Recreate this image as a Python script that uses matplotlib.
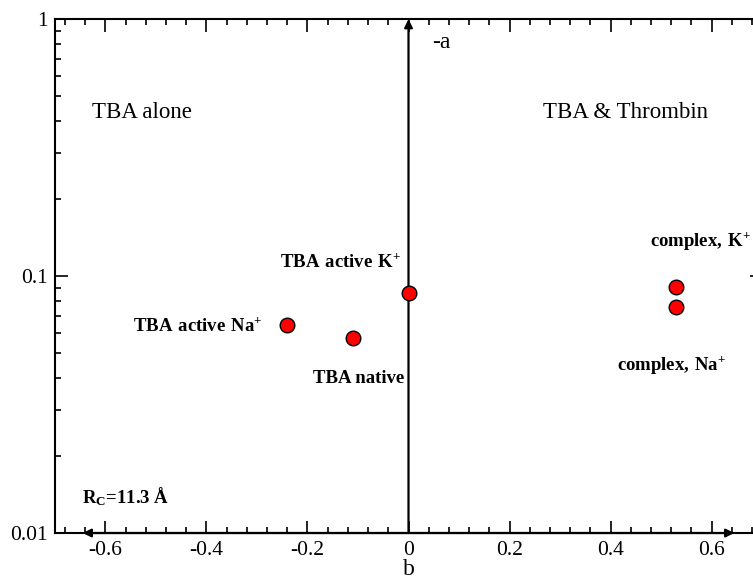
import matplotlib.pyplot as plt
from matplotlib.ticker import MultipleLocator, LogLocator, FixedFormatter, FixedLocator

plt.rcParams['font.family'] = ['Liberation Serif', 'DejaVu Serif']
plt.rcParams['mathtext.fontset'] = 'custom'
plt.rcParams['mathtext.rm'] = 'Liberation Serif'
plt.rcParams['mathtext.bf'] = 'Liberation Serif:bold'

# points
names = [r"$\mathbf{TBA\ active\ Na^{+}}$", "TBA native", r"$\mathbf{TBA\ active\ K^{+}}$",
         r"$\mathbf{complex{,}\ K^{+}}$", r"$\mathbf{complex{,}\ Na^{+}}$"]
b_vals = [-0.24, -0.109, 0.0, 0.53, 0.53]
a_vals = [0.0644, 0.0575, 0.0857, 0.0909, 0.076]
# where each label sits (left edge, baseline)
lab_x = [-0.546, -0.189, -0.254, 0.478, 0.413]
lab_y = [0.0611, 0.0384, 0.108, 0.131, 0.043]

xticks = [-0.6, -0.4, -0.2, 0, 0.2, 0.4, 0.6]
xtick_labels = ["-0.6", "-0.4", "-0.2", "0", "0.2", "0.4", "0.6"]
yticks = [0.01, 0.1, 1]
ytick_labels = ["0.01", "0.1", "1"]

fig = plt.figure(figsize=(7.53, 5.8), dpi=100)
ax = fig.add_axes([0.073, 0.081, 0.939, 0.886])

ax.set_yscale('log')
ax.set_xlim(-0.7, 0.7)
ax.set_ylim(0.01, 1)

ax.plot(b_vals, a_vals, 'o', color='red', markeredgecolor='black',
        markeredgewidth=1.0, markersize=10.5, zorder=5)

for n, x, y in zip(names, lab_x, lab_y):
    ax.text(x, y, n, fontsize=13.5, fontweight='bold', ha='left', va='baseline')

# axes arrows
ax.annotate('', xy=(0, 1), xytext=(0, 0.01),
            arrowprops=dict(arrowstyle='-|>', color='black', lw=1.6,
                            mutation_scale=12, shrinkA=0, shrinkB=0), zorder=4)
ax.annotate('', xy=(0.645, 0.01), xytext=(-0.645, 0.01),
            arrowprops=dict(arrowstyle='<|-|>', color='black', lw=1.6,
                            mutation_scale=12, shrinkA=0, shrinkB=0), zorder=4)

ax.text(0.047, 0.81, "-a", fontsize=17, ha='left', va='center')
ax.text(-0.627, 0.412, "TBA alone", fontsize=16.5, ha='left', va='baseline')
ax.text(0.266, 0.412, "TBA & Thrombin", fontsize=16.5, ha='left', va='baseline')
ax.text(-0.647, 0.0131, r"$\mathbf{R_{C}}$=11.3 Å", fontsize=13.5, fontweight='bold',
        ha='left', va='baseline')

ax.xaxis.set_major_locator(FixedLocator(xticks))
ax.xaxis.set_major_formatter(FixedFormatter(xtick_labels))
ax.xaxis.set_minor_locator(MultipleLocator(0.04))
ax.yaxis.set_major_locator(FixedLocator(yticks))
ax.yaxis.set_major_formatter(FixedFormatter(ytick_labels))
ax.yaxis.set_minor_locator(LogLocator(base=10, subs=range(2, 10)))
ax.yaxis.set_minor_formatter(FixedFormatter([]))

ax.tick_params(which='both', direction='in', top=True, right=True, width=1.2,
               labelsize=15.5)
ax.tick_params(which='major', length=9)
ax.tick_params(which='minor', length=4.5)
ax.tick_params(axis='x', pad=6)
ax.tick_params(axis='y', pad=5)
for s in ax.spines.values():
    s.set_linewidth(1.5)

ax.set_xlabel("b", fontsize=17, labelpad=-1)

plt.savefig("out.png", dpi=100)
